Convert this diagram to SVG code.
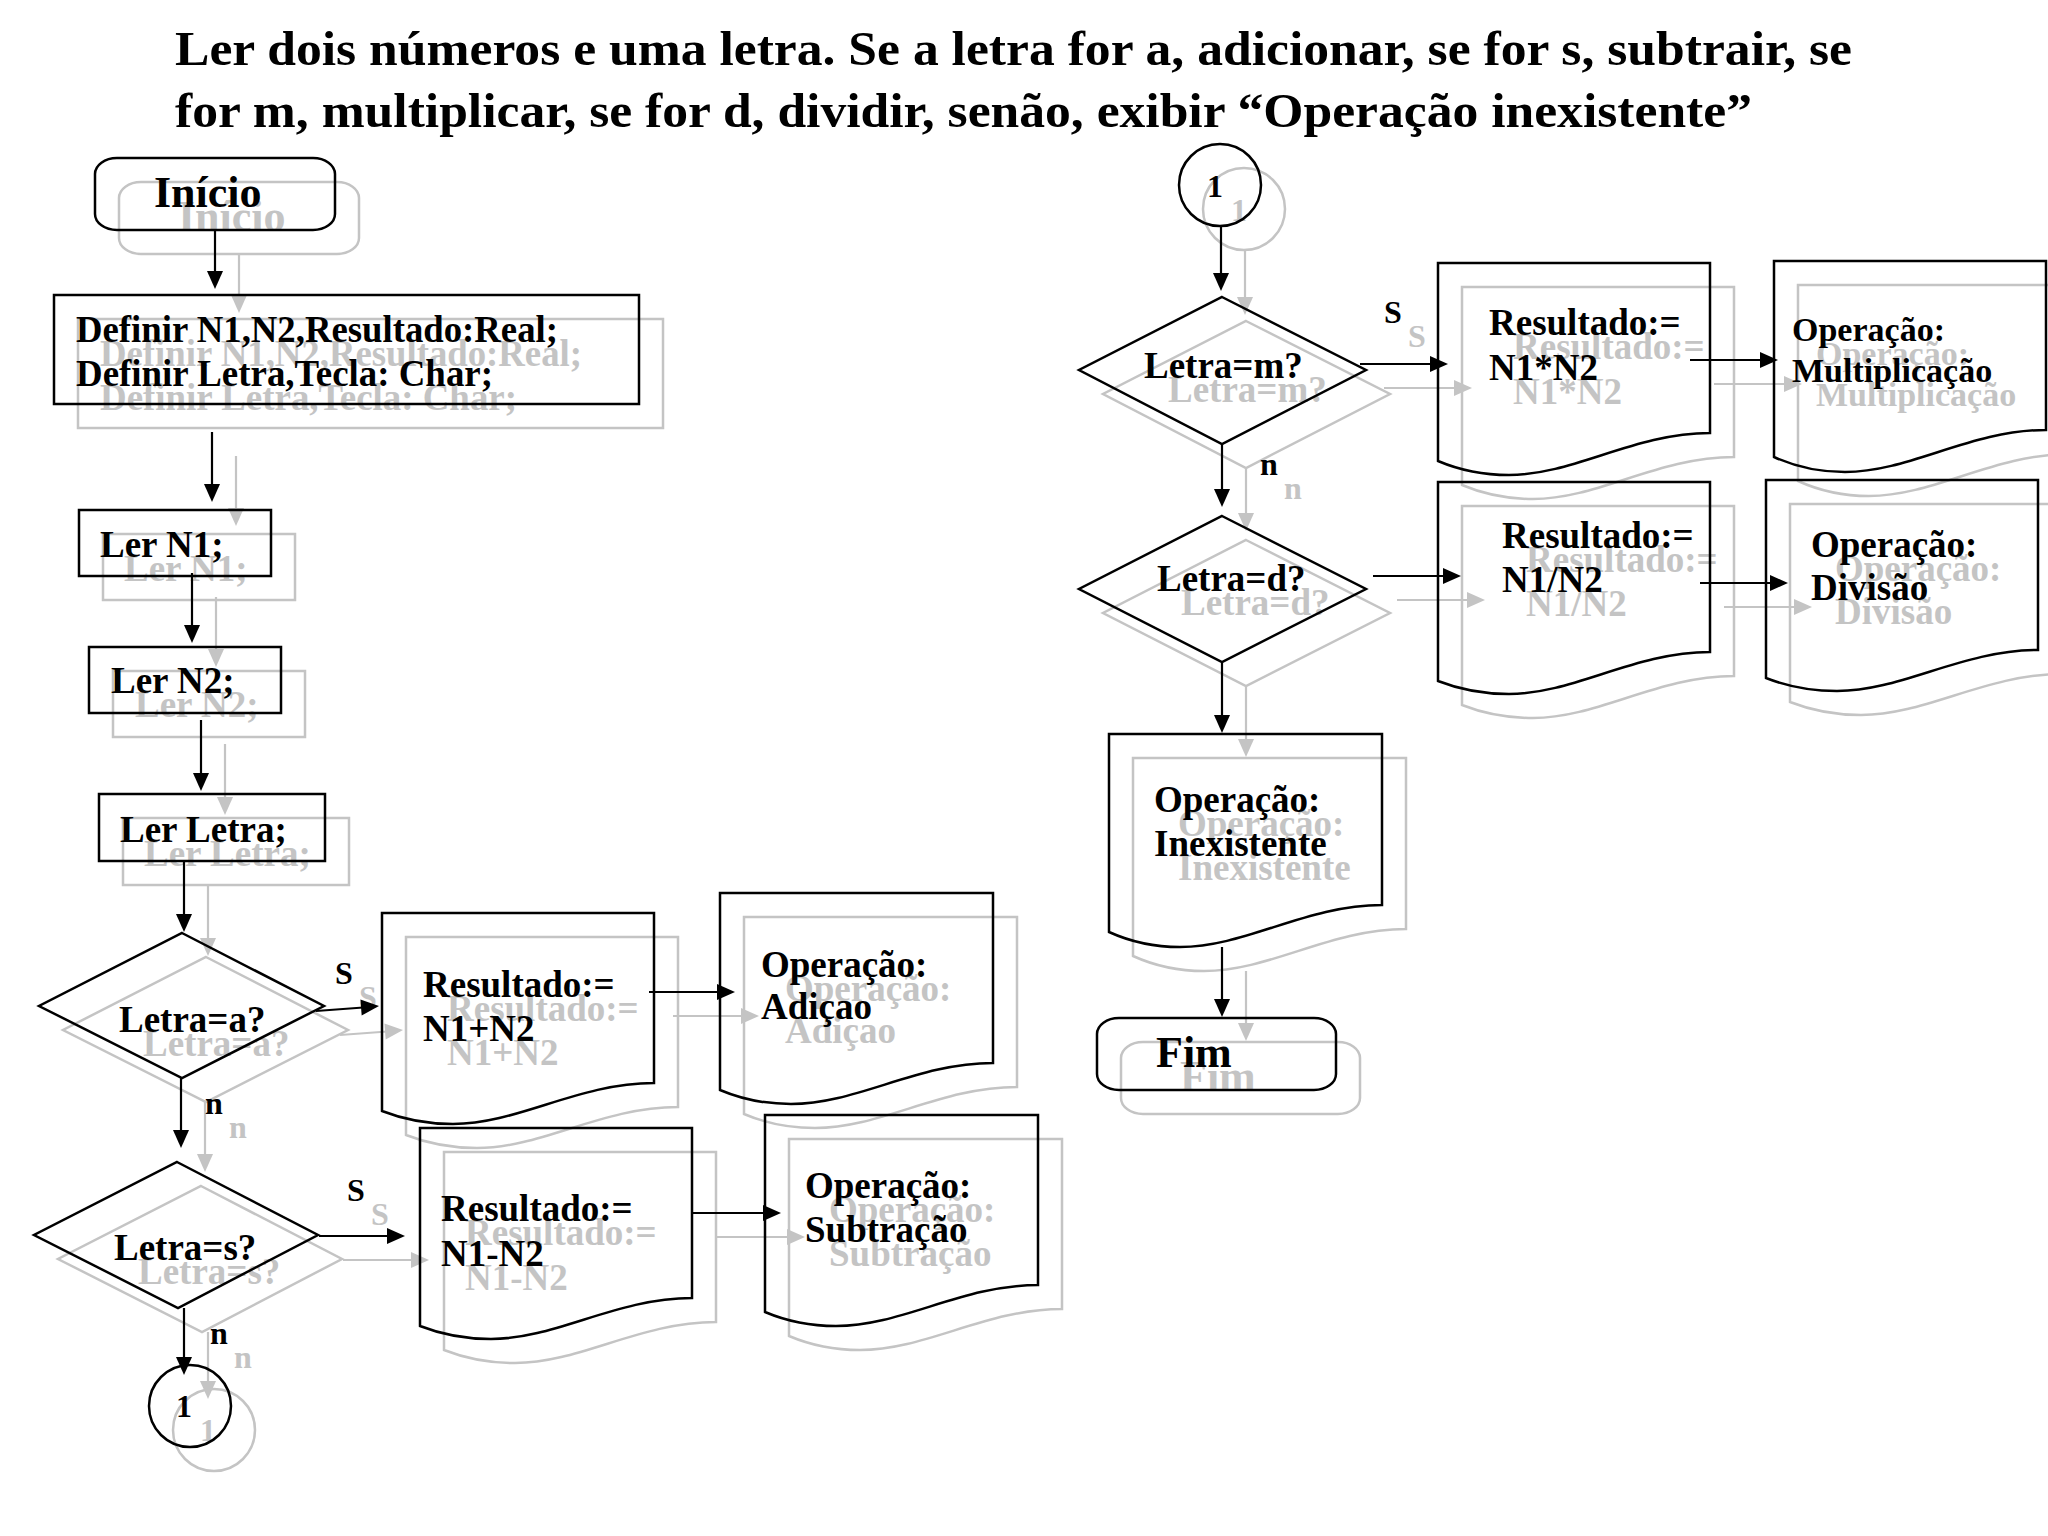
<svg xmlns="http://www.w3.org/2000/svg" xmlns:xlink="http://www.w3.org/1999/xlink" width="2048" height="1536" viewBox="0 0 2048 1536">
<style>
.t{font-family:"Liberation Serif","Times New Roman",serif;font-weight:bold;fill:currentColor}
.title{font-size:48px;fill:#000}
.b{font-size:37px}
.m{font-size:34px}
.big{font-size:44px}
.lbl{font-size:32px}
.sh{fill:none;stroke:currentColor;stroke-width:2.5}
.ln{fill:none;stroke:currentColor;stroke-width:2.2}
.ah{fill:currentColor;stroke:none}
</style>
<defs>
<path id="ahD" class="ah" d="M0,0 L-8,-18 L8,-18 Z"/>
<path id="ahR" class="ah" d="M0,0 L-18,-8 L-18,8 Z"/>
</defs>
<rect width="2048" height="1536" fill="#fff"/>
<g id="title">
<text class="t title" x="175" y="65" textLength="1677" lengthAdjust="spacingAndGlyphs">Ler dois números e uma letra. Se a letra for a, adicionar, se for s, subtrair, se</text>
<text class="t title" x="175" y="127" textLength="1577" lengthAdjust="spacingAndGlyphs">for m, multiplicar, se for d, dividir, senão, exibir “Operação inexistente”</text>
</g>
<use xlink:href="#diagram" href="#diagram" transform="translate(24,24)" style="color:#c4c4c4"/>
<g style="color:#000">
<g id="diagram">
<g id="connectors">
<line class="ln" x1="215" y1="230" x2="215" y2="279"/><use href="#ahD" xlink:href="#ahD" x="215" y="289"/>
<line class="ln" x1="212" y1="432" x2="212" y2="492"/><use href="#ahD" xlink:href="#ahD" x="212" y="502"/>
<line class="ln" x1="192" y1="573" x2="192" y2="633"/><use href="#ahD" xlink:href="#ahD" x="192" y="643"/>
<line class="ln" x1="201" y1="720" x2="201" y2="781"/><use href="#ahD" xlink:href="#ahD" x="201" y="791"/>
<line class="ln" x1="184" y1="861" x2="184" y2="922"/><use href="#ahD" xlink:href="#ahD" x="184" y="932"/>
<line class="ln" x1="316" y1="1011" x2="370" y2="1007"/><use href="#ahR" xlink:href="#ahR" transform="translate(379,1006) rotate(-4.5)"/>
<line class="ln" x1="649" y1="992" x2="725" y2="992"/><use href="#ahR" xlink:href="#ahR" x="735" y="992"/>
<line class="ln" x1="181" y1="1078" x2="181" y2="1138"/><use href="#ahD" xlink:href="#ahD" x="181" y="1148"/>
<line class="ln" x1="319" y1="1236" x2="395" y2="1236"/><use href="#ahR" xlink:href="#ahR" x="405" y="1236"/>
<line class="ln" x1="693" y1="1213" x2="771" y2="1213"/><use href="#ahR" xlink:href="#ahR" x="781" y="1213"/>
<line class="ln" x1="184" y1="1308" x2="184" y2="1365"/><use href="#ahD" xlink:href="#ahD" x="184" y="1375"/>
<line class="ln" x1="1221" y1="226" x2="1221" y2="281"/><use href="#ahD" xlink:href="#ahD" x="1221" y="291"/>
<line class="ln" x1="1360" y1="364" x2="1438" y2="364"/><use href="#ahR" xlink:href="#ahR" x="1448" y="364"/>
<line class="ln" x1="1690" y1="360" x2="1768" y2="360"/><use href="#ahR" xlink:href="#ahR" x="1778" y="360"/>
<line class="ln" x1="1222" y1="444" x2="1222" y2="497"/><use href="#ahD" xlink:href="#ahD" x="1222" y="507"/>
<line class="ln" x1="1373" y1="576" x2="1451" y2="576"/><use href="#ahR" xlink:href="#ahR" x="1461" y="576"/>
<line class="ln" x1="1700" y1="583" x2="1778" y2="583"/><use href="#ahR" xlink:href="#ahR" x="1788" y="583"/>
<line class="ln" x1="1222" y1="663" x2="1222" y2="723"/><use href="#ahD" xlink:href="#ahD" x="1222" y="733"/>
<line class="ln" x1="1222" y1="947" x2="1222" y2="1007"/><use href="#ahD" xlink:href="#ahD" x="1222" y="1017"/>
<text class="t lbl" x="335" y="984">S</text>
<text class="t lbl" x="205" y="1114">n</text>
<text class="t lbl" x="347" y="1201">S</text>
<text class="t lbl" x="210" y="1344">n</text>
<text class="t lbl" x="1384" y="323">S</text>
<text class="t lbl" x="1260" y="475">n</text>
</g>
<g id="n-inicio">
<rect class="sh" x="95" y="158" width="240" height="72" rx="22" ry="16"/>
<text class="t big" x="154" y="207">Início</text>
</g>
<g id="n-definir">
<rect class="sh" x="54" y="295" width="585" height="109"/>
<text class="t b" x="76" y="342" textLength="482" lengthAdjust="spacingAndGlyphs">Definir N1,N2,Resultado:Real;</text>
<text class="t b" x="76" y="386" textLength="417" lengthAdjust="spacingAndGlyphs">Definir Letra,Tecla: Char;</text>
</g>
<g id="n-lern1">
<rect class="sh" x="79" y="510" width="192" height="66"/>
<text class="t b" x="100" y="557">Ler N1;</text>
</g>
<g id="n-lern2">
<rect class="sh" x="89" y="647" width="192" height="66"/>
<text class="t b" x="111" y="693">Ler N2;</text>
</g>
<g id="n-lerletra">
<rect class="sh" x="99" y="794" width="226" height="67"/>
<text class="t b" x="120" y="842">Ler Letra;</text>
</g>
<g id="n-dec-a">
<polygon class="sh" points="182,933 324,1006 182,1078 39,1006"/>
<text class="t b" x="119" y="1032">Letra=a?</text>
</g>
<g id="n-res-a">
<path class="sh" d="M382,913 H654 V1083 C578,1083 518,1124 453,1124 Q415,1124 382,1111 Z"/>
<text class="t b" x="423" y="997">Resultado:=</text>
<text class="t b" x="423" y="1041">N1+N2</text>
</g>
<g id="n-op-adicao">
<path class="sh" d="M720,893 H993 V1063 C917,1063 857,1104 791,1104 Q753,1104 720,1090 Z"/>
<text class="t b" x="761" y="977">Operação:</text>
<text class="t b" x="761" y="1019">Adiçao</text>
</g>
<g id="n-dec-s">
<polygon class="sh" points="177,1162 318,1235 178,1308 34,1235"/>
<text class="t b" x="114" y="1260">Letra=s?</text>
</g>
<g id="n-res-s">
<path class="sh" d="M420,1128 H692 V1298 C616,1298 556,1339 491,1339 Q453,1339 420,1326 Z"/>
<text class="t b" x="441" y="1221">Resultado:=</text>
<text class="t b" x="441" y="1266">N1-N2</text>
</g>
<g id="n-op-subtracao">
<path class="sh" d="M765,1115 H1038 V1285 C962,1285 902,1326 836,1326 Q798,1326 765,1312 Z"/>
<text class="t b" x="805" y="1198">Operação:</text>
<text class="t b" x="805" y="1242">Subtração</text>
</g>
<g id="n-con-out">
<circle class="sh" cx="190" cy="1406" r="41"/>
<text class="t lbl" x="184" y="1417" text-anchor="middle">1</text>
</g>
<g id="n-con-in">
<circle class="sh" cx="1220" cy="185" r="41"/>
<text class="t lbl" x="1215" y="197" text-anchor="middle">1</text>
</g>
<g id="n-dec-m">
<polygon class="sh" points="1222,297 1366,370 1222,444 1079,370"/>
<text class="t b" x="1144" y="378">Letra=m?</text>
</g>
<g id="n-res-m">
<path class="sh" d="M1438,263 H1710 V433 C1634,433 1574,475 1509,475 Q1471,475 1438,461 Z"/>
<text class="t b" x="1489" y="335">Resultado:=</text>
<text class="t b" x="1489" y="380">N1*N2</text>
</g>
<g id="n-op-mult">
<path class="sh" d="M1774,261 H2046 V430 C1970,430 1910,472 1845,472 Q1807,472 1774,457 Z"/>
<text class="t m" x="1792" y="341">Operação:</text>
<text class="t m" x="1792" y="382">Multiplicação</text>
</g>
<g id="n-dec-d">
<polygon class="sh" points="1222,516 1366,589 1222,662 1079,589"/>
<text class="t b" x="1157" y="591">Letra=d?</text>
</g>
<g id="n-res-d">
<path class="sh" d="M1438,482 H1710 V652 C1634,652 1574,694 1509,694 Q1471,694 1438,681 Z"/>
<text class="t b" x="1502" y="548">Resultado:=</text>
<text class="t b" x="1502" y="592">N1/N2</text>
</g>
<g id="n-op-divisao">
<path class="sh" d="M1766,480 H2038 V650 C1962,650 1902,691 1837,691 Q1799,691 1766,678 Z"/>
<text class="t b" x="1811" y="557">Operação:</text>
<text class="t b" x="1811" y="600">Divisão</text>
</g>
<g id="n-op-inexistente">
<path class="sh" d="M1109,734 H1382 V905 C1306,905 1246,947 1180,947 Q1142,947 1109,932 Z"/>
<text class="t b" x="1154" y="812">Operação:</text>
<text class="t b" x="1154" y="856">Inexistente</text>
</g>
<g id="n-fim">
<rect class="sh" x="1097" y="1018" width="239" height="72" rx="22" ry="16"/>
<text class="t big" x="1156" y="1067">Fim</text>
</g>
</g>
</g>
</svg>
